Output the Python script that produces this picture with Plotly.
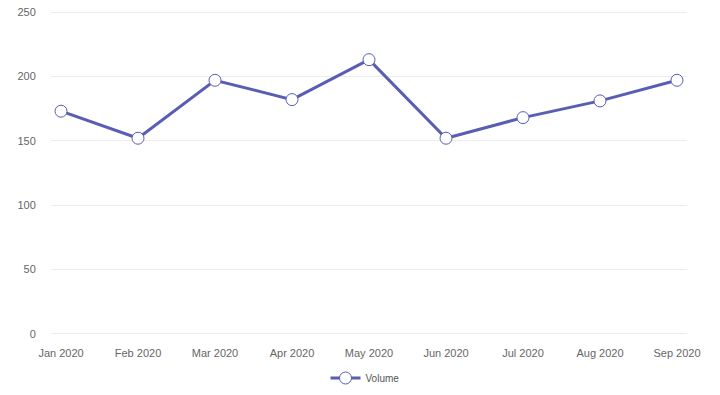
import plotly.graph_objects as go

months = ["Jan 2020", "Feb 2020", "Mar 2020", "Apr 2020", "May 2020", "Jun 2020", "Jul 2020", "Aug 2020", "Sep 2020"]
volume = [173, 152, 197, 182, 213, 152, 168, 181, 197]
y_ticks = [0, 50, 100, 150, 200, 250]

W, H = 720, 395

fig = go.Figure()
fig.add_trace(go.Scatter(
    x=months, y=volume, name="Volume", mode="lines+markers",
    line=dict(color="#5a5db4", width=3),
    marker=dict(size=12, color="white", line=dict(color="#5a5db4", width=1)),
    cliponaxis=False,
))
fig.update_layout(
    template="none",
    width=W, height=H,
    margin=dict(l=51, r=33, t=11, b=60, autoexpand=False),
    paper_bgcolor="white", plot_bgcolor="white",
    font=dict(family="Liberation Sans, Arial, sans-serif", size=11, color="#666"),
    showlegend=True,
    legend=dict(orientation="h", x=365 / W, xanchor="center", xref="container",
                y=(H - 378) / H, yanchor="middle", yref="container",
                font=dict(size=10, color="#555")),
    xaxis=dict(type="category", range=[-0.13, 8.13], showgrid=False, showline=False,
               ticks="outside", ticklen=8, tickcolor="rgba(0,0,0,0)",
               tickfont=dict(size=11, color="#666"), automargin=False),
    yaxis=dict(range=[-0.8, 250.8], tickvals=y_ticks, showgrid=True, gridcolor="#ececec",
               gridwidth=1, zeroline=False, showline=False, ticks="outside", ticklen=12,
               tickcolor="rgba(0,0,0,0)", tickfont=dict(size=11, color="#666"),
               automargin=False, ticklabeloverflow="allow"),
)
fig.write_html("out.html", config={"displayModeBar": False},
               post_script="document.body.style.margin='0';")
